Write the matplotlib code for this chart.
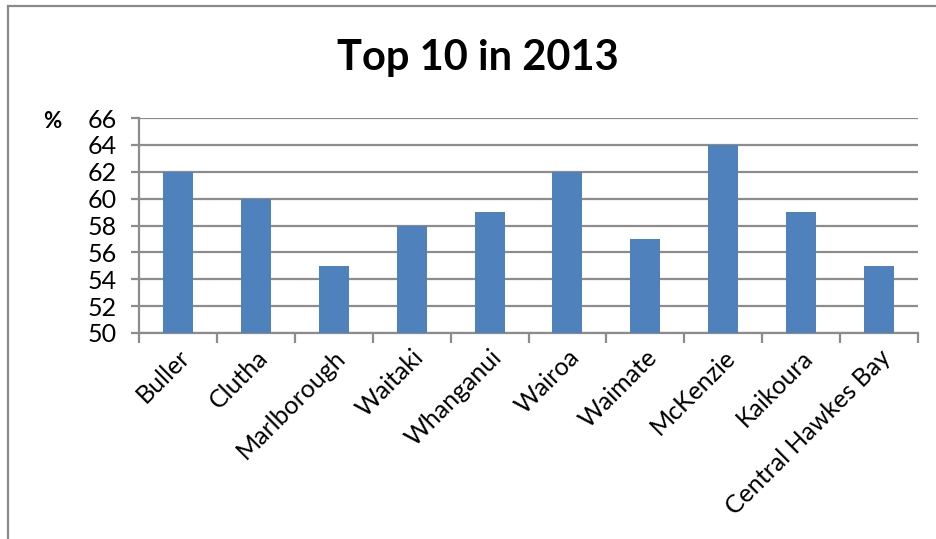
import matplotlib
matplotlib.use("Agg")
import matplotlib.pyplot as plt
from matplotlib.lines import Line2D

districts = ["Buller", "Clutha", "Marlborough", "Waitaki", "Whanganui",
             "Wairoa", "Waimate", "McKenzie", "Kaikoura", "Central Hawkes Bay"]
percent = [62, 60, 55, 58, 59, 62, 57, 64, 59, 55]
y_ticks = [50, 52, 54, 56, 58, 60, 62, 64, 66]

plt.rcParams["font.family"] = ["Lato", "DejaVu Sans"]

W, H = 937, 539
fig = plt.figure(figsize=(W / 100, H / 100), dpi=100)
ax = fig.add_axes([139 / W, 1 - 333 / H, (918 - 139) / W, (333 - 118) / H])

grid_c = "#8c8c8c"
bar_c = "#4f81bd"

x = list(range(len(districts)))
ax.bar(x, percent, width=0.385, color=bar_c, zorder=3)
ax.set_xlim(-0.5, len(districts) - 0.5)
ax.set_ylim(y_ticks[0], y_ticks[-1])
ax.set_yticks(y_ticks)
ax.set_yticklabels([str(v) for v in y_ticks], fontsize=18)
ax.yaxis.grid(True, color=grid_c, linewidth=1.6, zorder=0)
ax.set_axisbelow(True)

# category ticks sit on the boundaries between bars
ax.set_xticks([i - 0.5 for i in range(len(districts) + 1)], minor=False)
ax.set_xticklabels([""] * (len(districts) + 1))
ax.set_xticks(x, minor=True)
ax.set_xticklabels(districts, minor=True, rotation=45, ha="right",
                   rotation_mode="anchor", fontsize=18)
ax.tick_params(axis="x", which="minor", length=0, pad=9)
ax.tick_params(axis="x", which="major", length=7, width=1.6, color=grid_c)
ax.tick_params(axis="y", length=6, width=1.6, color=grid_c, pad=10)

for side in ["top", "right"]:
    ax.spines[side].set_visible(False)
for side in ["left", "bottom"]:
    ax.spines[side].set_color(grid_c)
    ax.spines[side].set_linewidth(1.6)

fig.text(478 / W, 1 - 58 / H, "Top 10 in 2013", ha="center", va="center",
         fontsize=30, fontweight="bold")
fig.text(52 / W, 1 - 121 / H, "%", ha="center", va="center",
         fontsize=16, fontweight="bold")

# chart frame
fig.add_artist(Line2D([8 / W, 1.0], [1 - 6 / H, 1 - 6 / H], color="#8a8a8a",
                      linewidth=1.6, transform=fig.transFigure))
fig.add_artist(Line2D([8 / W, 8 / W], [1 - 6 / H, 0.0], color="#8a8a8a",
                      linewidth=1.6, transform=fig.transFigure))

fig.savefig("out.png", dpi=100, facecolor="white")
